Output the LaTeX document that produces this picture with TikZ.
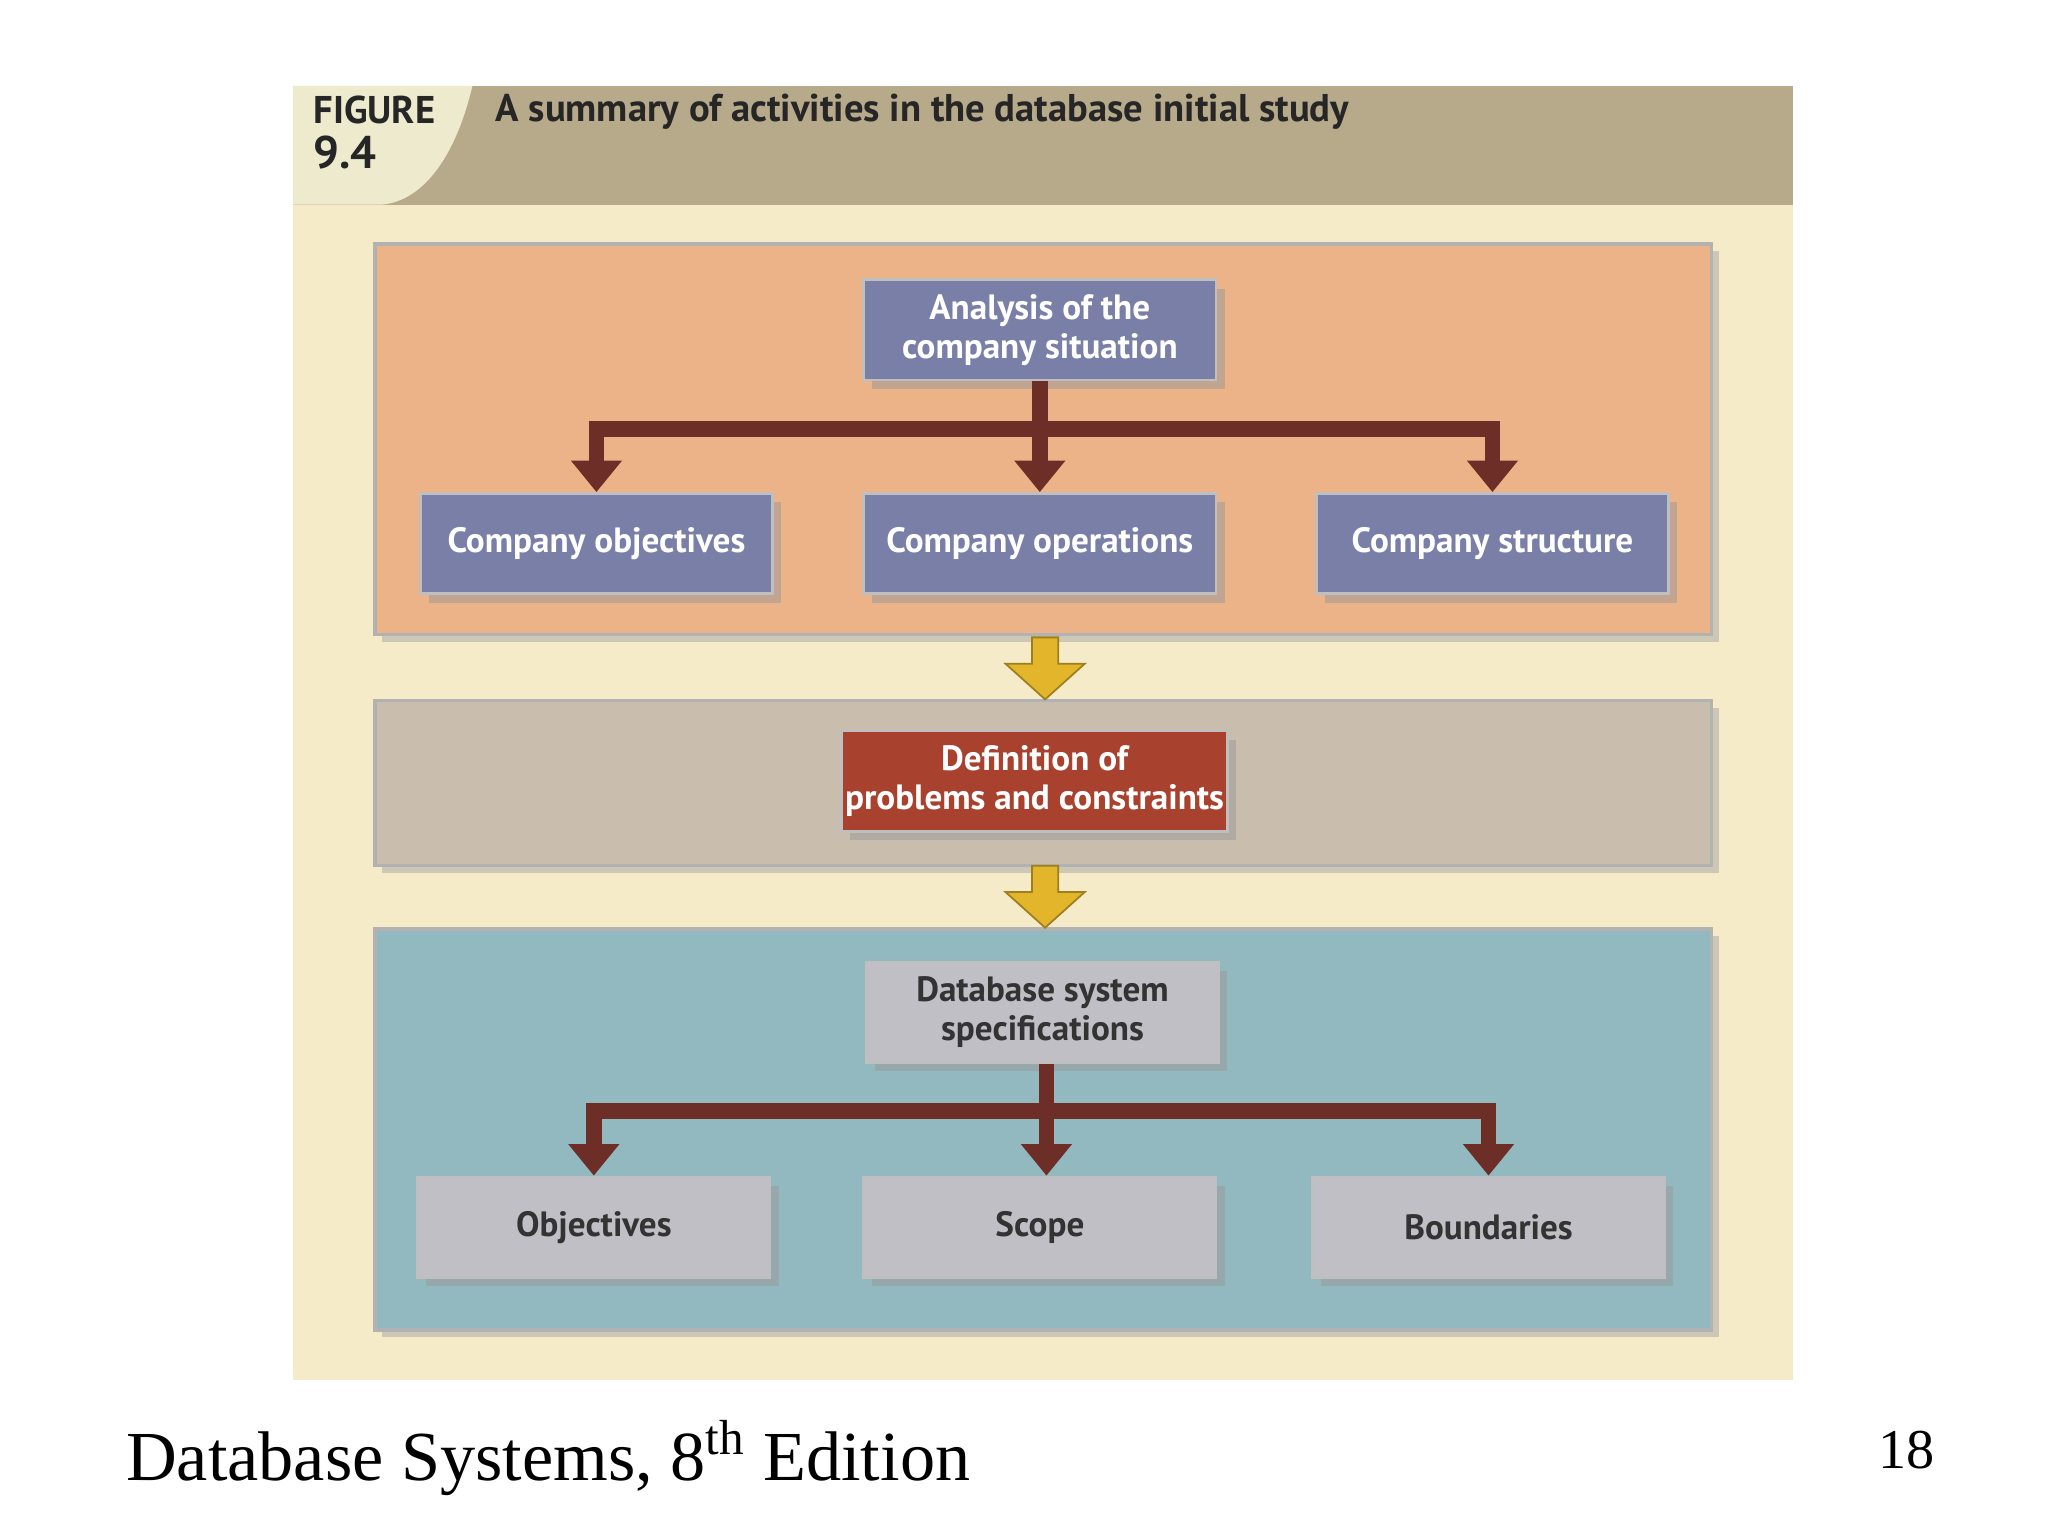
\documentclass[tikz,border=0pt]{standalone}
\usepackage{fontspec}
\setmainfont{Liberation Serif}
\newfontfamily\figfont{PT Sans}
\usetikzlibrary{shadows,arrows.meta}
\definecolor{cream}{HTML}{F5EBC8}
\definecolor{tanband}{HTML}{B7AA8B}
\definecolor{lightc}{HTML}{EEEACD}
\definecolor{orangebox}{HTML}{EBB387}
\definecolor{graybox}{HTML}{C9BDAE}
\definecolor{bluebox}{HTML}{93B9C0}
\definecolor{bluenode}{HTML}{7A7FA8}
\definecolor{rednode}{HTML}{A8412E}
\definecolor{graynode}{HTML}{C1BFC6}
\definecolor{conn}{HTML}{6E2E28}
\definecolor{yel}{HTML}{E2B52A}
\begin{document}
\begin{tikzpicture}[x=0.0132cm,y=-0.0132cm,
  panel/.style={draw=gray!60,line width=1pt,drop shadow={shadow xshift=2pt,shadow yshift=-2pt,fill=black!35}},
  nd/.style={draw=gray!50,line width=0.8pt,minimum width=267*0.0132cm,minimum height=76*0.0132cm,align=center,font=\figfont\bfseries\fontsize{10}{11}\selectfont,inner sep=1pt,drop shadow={shadow xshift=2.5pt,shadow yshift=-2.5pt,fill=black!40}},
  bn/.style={nd,fill=bluenode,text=white},
  rn/.style={nd,fill=rednode,text=white},
  gn/.style={nd,fill=graynode,text=black!80},
  cn/.style={draw=conn,line width=4.5pt},
  ar/.style={cn,-{Triangle[length=9pt,width=14pt]}},
  ya/.style={fill=yel,draw=yel!70!black,line width=0.5pt}]
\useasboundingbox (0,0) rectangle (1552,1164);
\fill[white] (0,0) rectangle (1552,1164);
\fill[cream] (222,65) rectangle (1359,1046);
\fill[tanband] (222,65) rectangle (1359,155);
\fill[lightc] (222,65) -- (358,65) .. controls (345,120) and (320,152) .. (290,155) -- (222,155) -- cycle;
\node[anchor=north west,font=\figfont\bfseries\fontsize{11}{12}\selectfont,text=black!85,align=left,inner sep=0] (fig) at (237,72) {FIGURE\\[1pt]\fontsize{13}{14}\selectfont 9.4};
\node[anchor=west,font=\figfont\bfseries\fontsize{11}{12}\selectfont,text=black!85,inner sep=0] (title) at (375,85) {A summary of activities in the database initial study};
% panels
\filldraw[panel,fill=orangebox] (284,185) rectangle (1297,481);
\filldraw[panel,fill=graybox] (284,531) rectangle (1297,656);
\filldraw[panel,fill=bluebox] (284,704) rectangle (1297,1008);
% nodes
\node[bn] (a) at (788,250) {Analysis of the\\company situation};
\node[bn] (co) at (452,412) {Company objectives};
\node[bn] (cp) at (788,412) {Company operations};
\node[bn] (cs) at (1131,412) {Company structure};
\node[rn] (d) at (784,592) {Definition of\\problems and constraints};
\node[gn] (s) at (790,767) {Database system\\specifications};
\node[gn] (o) at (450,930) {Objectives};
\node[gn] (sc) at (788,930) {Scope};
\node[gn] (b) at (1128,930) {Boundaries};
% connectors
\coordinate (j1) at (788,325);
\draw[cn] (a.south) -- (j1);
\draw[ar] (j1) -| (co.north);
\draw[ar] (j1) -- (cp.north);
\draw[ar] (j1) -| (cs.north);
\coordinate (j2) at (793,842);
\draw[cn] (s.south -| j2) -- (j2);
\draw[ar] (j2) -| (o.north);
\draw[ar] (j2) -- (j2 |- sc.north);
\draw[ar] (j2) -| (b.north);
% yellow arrows
\foreach \y in {483,656}{
 \filldraw[ya] (782,\y) -- (802,\y) -- (802,\y+20) -- (822,\y+20) -- (792,\y+47) -- (762,\y+20) -- (782,\y+20) -- cycle;}
% footer
\node[anchor=west,font=\fontsize{20}{22}\selectfont,inner sep=0] (foot) at (95,1105) {Database Systems, 8\textsuperscript{th} Edition};
\node[anchor=center,font=\fontsize{16}{18}\selectfont,inner sep=0] (pg) at (1445,1099) {18};
\end{tikzpicture}
\end{document}
